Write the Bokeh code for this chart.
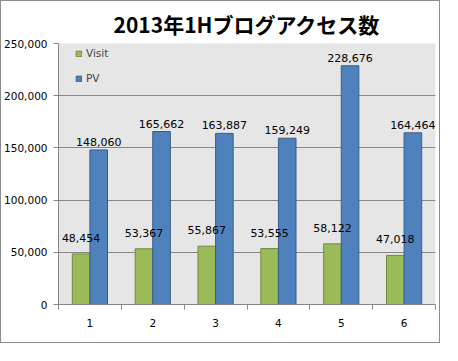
from bokeh.plotting import figure
from bokeh.models import (ColumnDataSource, FixedTicker, NumeralTickFormatter,
                          LabelSet, Legend, LegendItem, Range1d)
from bokeh.core.properties import value
from bokeh.transform import dodge
from bokeh.embed import file_html
from bokeh.resources import INLINE

months = [1, 2, 3, 4, 5, 6]
visit = [48454, 53367, 55867, 53555, 58122, 47018]
pv = [148060, 165662, 163887, 159249, 228676, 164464]
y_ticks = [0, 50000, 100000, 150000, 200000, 250000]
title_text = "2013年1Hブログアクセス数"

GREEN = "#9bbb59"
GREEN_EDGE = "#71893f"
BLUE = "#4f81bd"
BLUE_EDGE = "#385d8a"
FONT = "DejaVu Sans"

src = ColumnDataSource(dict(
    x=months, visit=visit, pv=pv,
    visit_lbl=[f"{v:,}" for v in visit],
    pv_lbl=[f"{v:,}" for v in pv],
))

p = figure(width=440, height=343, output_backend="svg", toolbar_location=None,
           x_range=Range1d(0.5, 6.5), y_range=Range1d(0, 250000),
           min_border_left=57, min_border_right=6, min_border_top=38,
           min_border_bottom=40, background_fill_color="#e6e6e6",
           border_fill_color="white", outline_line_color=None,
           title=title_text)
p.styles = {"border": "1px solid #8c8c8c"}

p.title.text_font = "Noto Sans CJK JP"
p.title.text_font_size = "21px"
p.title.text_font_style = "bold"
p.title.align = "center"
p.title.text_color = "black"

W = 0.28
r1 = p.vbar(x=dodge("x", -W / 2, range=p.x_range), top="visit", width=W, source=src,
            fill_color=GREEN, line_color=GREEN_EDGE, line_width=1)
r2 = p.vbar(x=dodge("x", W / 2, range=p.x_range), top="pv", width=W, source=src,
            fill_color=BLUE, line_color=BLUE_EDGE, line_width=1)

p.add_layout(LabelSet(x=dodge("x", -W / 2, range=p.x_range), y="visit", text="visit_lbl",
                      source=src, text_align="center", text_baseline="bottom",
                      y_offset=12, text_font=value(FONT), text_font_size=value("11px"),
                      text_color="black"))
p.add_layout(LabelSet(x=dodge("x", W / 2, range=p.x_range), y="pv", text="pv_lbl",
                      source=src, text_align="center", text_baseline="bottom",
                      y_offset=4, text_font=value(FONT), text_font_size=value("11px"),
                      text_color="black"))

# axes
p.xaxis.ticker = FixedTicker(ticks=months, minor_ticks=[m - 0.5 for m in months] + [months[-1] + 0.5])
p.xaxis.major_tick_line_color = None
p.xaxis.minor_tick_in = 0
p.xaxis.minor_tick_out = 5
p.xaxis.minor_tick_line_color = "#868686"
p.xaxis.axis_line_color = "#868686"
p.xaxis.major_label_standoff = 8
p.yaxis.ticker = FixedTicker(ticks=y_ticks)
p.yaxis.formatter = NumeralTickFormatter(format="0,0")
p.yaxis.major_tick_in = 0
p.yaxis.major_tick_out = 5
p.yaxis.minor_tick_line_color = None
p.yaxis.major_tick_line_color = "#868686"
p.yaxis.axis_line_color = "#868686"
p.yaxis.major_label_standoff = 6
for ax in (p.xaxis, p.yaxis):
    ax.major_label_text_font = FONT
    ax.major_label_text_font_size = "10.5px"
    ax.major_label_text_color = "black"

p.xgrid.grid_line_color = None
p.ygrid.grid_line_color = "#868686"
p.ygrid.ticker = FixedTicker(ticks=y_ticks)

legend = Legend(items=[LegendItem(label="Visit", renderers=[r1]),
                       LegendItem(label="PV", renderers=[r2])],
                location=(17, 216), orientation="vertical",
                background_fill_alpha=0, border_line_color=None,
                glyph_width=7, glyph_height=7, label_standoff=4, spacing=5,
                padding=0, margin=0, label_text_font=FONT,
                label_text_font_size="10.5px", label_height=20)
p.add_layout(legend)

open("out.html", "w").write(file_html(p, INLINE))
